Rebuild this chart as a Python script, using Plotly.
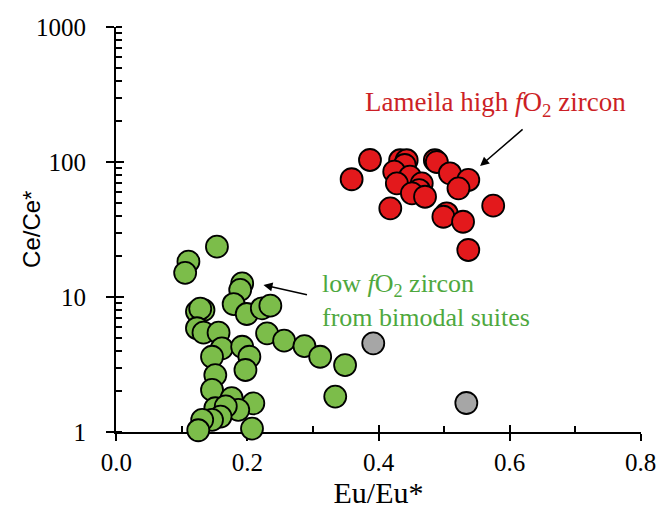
import plotly.graph_objects as go

# Data (Eu/Eu*, Ce/Ce*)
green_x = [0.1535, 0.110, 0.105, 0.192, 0.189, 0.179, 0.133, 0.123, 0.128, 0.199, 0.222, 0.235,
           0.123, 0.133, 0.156, 0.230, 0.256, 0.287, 0.161, 0.192, 0.146, 0.203, 0.197, 0.151,
           0.146, 0.176, 0.209, 0.186, 0.151, 0.167, 0.159, 0.146, 0.131, 0.125, 0.207,
           0.311, 0.349, 0.334]
green_y = [23.6, 18.3, 15.1, 12.6, 11.3, 8.87, 8.0, 7.8, 8.2, 7.48, 8.25, 8.62,
           5.87, 5.44, 5.44, 5.38, 4.75, 4.33, 4.17, 4.28, 3.61, 3.61, 2.88, 2.64,
           2.05, 1.78, 1.63, 1.46, 1.50, 1.55, 1.30, 1.23, 1.23, 1.03, 1.06,
           3.61, 3.13, 1.83]

red_x = [0.387, 0.359, 0.433, 0.443, 0.440, 0.424, 0.448, 0.428, 0.466, 0.462, 0.451, 0.471,
         0.418, 0.486, 0.489, 0.509, 0.537, 0.522, 0.504, 0.499, 0.529, 0.575, 0.537]
red_y = [103.5, 74.5, 103, 103, 95, 84.8, 77.8, 69.5, 69.5, 62, 58.6, 55.3,
         45.4, 103, 100, 82.5, 73.6, 63.8, 41.7, 39.3, 36.1, 47.5, 22.3]

gray_x = [0.392, 0.534]
gray_y = [4.54, 1.64]

x_ticks = [0.0, 0.2, 0.4, 0.6, 0.8]
x_ticklabels = ["0.0", "0.2", "0.4", "0.6", "0.8"]
y_ticks = [1, 10, 100, 1000]
y_ticklabels = ["1", "10", "100", "1000"]

SERIF = "Liberation Serif"
SANS = "Liberation Sans"

fig = go.Figure()

def add(xs, ys, color):
    fig.add_trace(go.Scatter(
        x=xs, y=ys, mode="markers", cliponaxis=False, showlegend=False,
        marker=dict(size=22, color=color, line=dict(color="black", width=1.8)),
    ))

add(gray_x, gray_y, "#a6a6a6")
add(green_x, green_y, "#7cbd4a")
add(red_x, red_y, "#e3191c")

axis_common = dict(showgrid=False, zeroline=False, color="black", automargin=False)
XR = [-0.0005, 0.8005]

fig.update_layout(
    width=656, height=514,
    margin=dict(l=116, r=15, t=27, b=82),
    paper_bgcolor="white", plot_bgcolor="white",
    font=dict(family=SERIF, size=25, color="black"),
    xaxis=dict(
        **axis_common, range=XR, tickvals=x_ticks, ticktext=x_ticklabels,
        showline=True, linecolor="black", linewidth=2, mirror=False,
        ticks="outside", ticklen=7, tickwidth=1.5, tickcolor="black",
        minor=dict(ticks="inside", ticklen=6, tickwidth=1.5, tickcolor="black",
                   tickvals=[0.1, 0.3, 0.5, 0.7], showgrid=False),
        tickfont=dict(family=SERIF, size=25), layer="below traces",
        ticklabeloverflow="allow",
        title=dict(text="Eu/Eu*", font=dict(family=SERIF, size=30), standoff=4),
    ),
    xaxis2=dict(
        **axis_common, range=XR, overlaying="x", anchor="y", side="bottom",
        tickvals=x_ticks, showticklabels=False, showline=False,
        ticks="inside", ticklen=7, tickwidth=1.5, tickcolor="black", layer="below traces",
    ),
    yaxis=dict(
        **axis_common, type="log", range=[0, 3], tickvals=y_ticks, ticktext=y_ticklabels,
        showline=True, linecolor="black", linewidth=2,
        ticks="outside", ticklen=8, tickwidth=1.5, tickcolor="black",
        minor=dict(ticks="inside", ticklen=6, tickwidth=1.5, tickcolor="black", dtick="D1", showgrid=False),
        tickfont=dict(family=SERIF, size=25), layer="below traces",
        ticklabelstandoff=15,
    ),
    yaxis2=dict(
        **axis_common, type="log", range=[0, 3], overlaying="y", anchor="x", side="left",
        tickvals=y_ticks, showticklabels=False, showline=False,
        ticks="inside", ticklen=8, tickwidth=1.5, tickcolor="black", layer="below traces",
    ),
)

# invisible trace to activate secondary axes
fig.add_trace(go.Scatter(x=[0.4], y=[10], xaxis="x2", yaxis="y2", mode="markers",
                         marker=dict(opacity=0), showlegend=False, hoverinfo="skip"))

# Y axis title
fig.add_annotation(x=-0.16, y=0.499, xref="paper", yref="paper", showarrow=False,
                   text="Ce/Ce*", textangle=-90,
                   font=dict(family=SANS, size=24, color="black"),
                   xanchor="center", yanchor="middle")

# Annotations
fig.add_annotation(x=0.579, y=2.43, xref="x", yref="y", showarrow=False,
                   text="Lameila high <i>f</i>O<sub>2</sub> zircon",
                   font=dict(family=SERIF, size=27, color="#cc1f26"),
                   xanchor="center", yanchor="middle")
fig.add_annotation(x=0.555, y=1.970, xref="x", yref="y", ax=44, ay=-38,
                   showarrow=True, arrowhead=2, arrowsize=1.2, arrowwidth=1.5,
                   arrowcolor="black", text="")
fig.add_annotation(x=0.3115, y=0.975, xref="x", yref="y", showarrow=False,
                   text="low <i>f</i>O<sub>2</sub> zircon<br>from bimodal suites",
                   font=dict(family=SERIF, size=26, color="#4ea83e"),
                   xanchor="left", yanchor="middle", align="left")
fig.add_annotation(x=0.2245, y=1.089, xref="x", yref="y", ax=45, ay=10,
                   showarrow=True, arrowhead=2, arrowsize=1.2, arrowwidth=1.5,
                   arrowcolor="black", text="")

fig.write_html("out.html", config={"displayModeBar": False},
               post_script="document.body.style.margin='0';")
